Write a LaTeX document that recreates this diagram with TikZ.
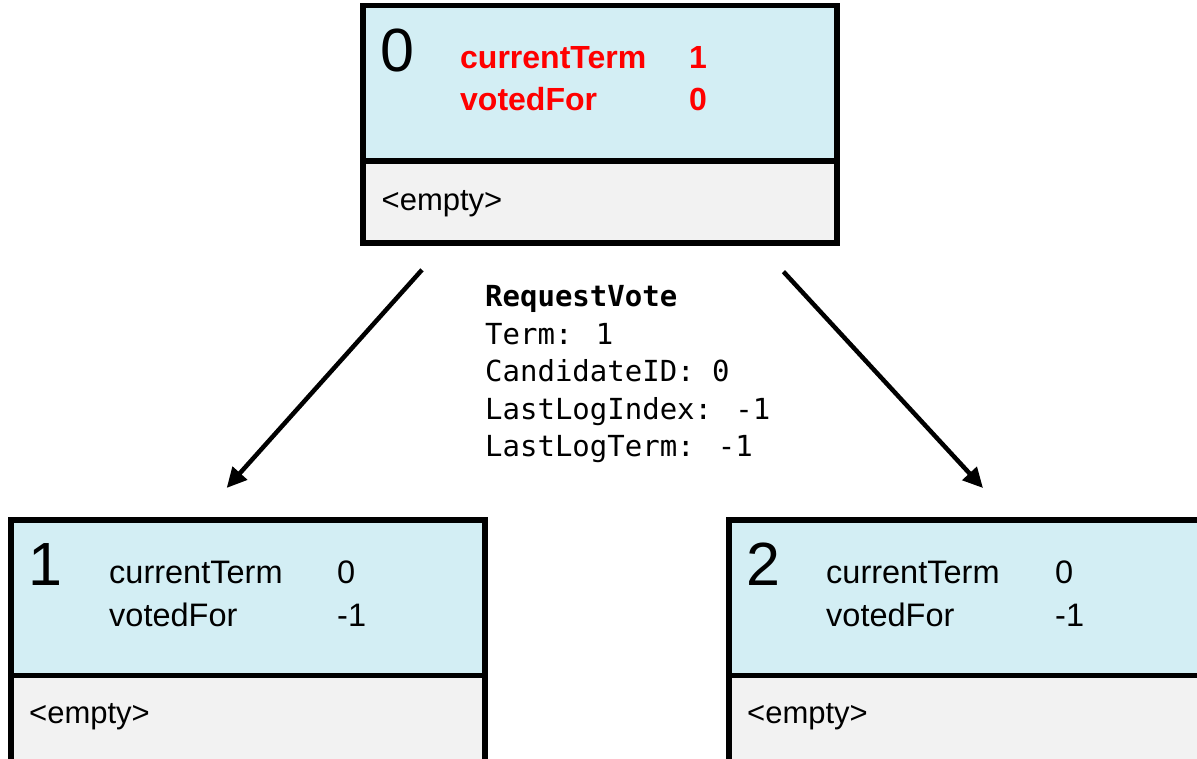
\documentclass[tikz,border=0pt]{standalone}
\usepackage{fontspec}
\setmainfont{Liberation Sans}
\newfontfamily\codefont{DejaVu Sans Mono}
\usepackage{tikz}
\usetikzlibrary{arrows.meta}

\definecolor{stateblue}{RGB}{211,238,244}
\definecolor{loggray}{RGB}{242,242,242}

\tikzset{
	statebox/.style={draw,line width=5.5pt,fill=stateblue,minimum width=474pt,minimum height=155.5pt,anchor=north west,inner sep=0pt,outer sep=0pt},
	logbox/.style={draw,line width=5.5pt,fill=loggray,minimum width=474pt,minimum height=82pt,anchor=north,inner sep=0pt,outer sep=0pt},
	idlabel/.style={anchor=base west,inner sep=0pt,font=\fontsize{61}{61}\selectfont},
	field/.style={anchor=base west,inner sep=0pt,font=\fontsize{32.5}{32.5}\selectfont},
	hot/.style={text=red,font=\fontsize{32}{32}\selectfont\bfseries},
	logtext/.style={anchor=base west,inner sep=0pt,font=\fontsize{31}{31}\selectfont},
	msg/.style={anchor=base west,inner sep=0pt,font=\codefont\fontsize{29}{29}\selectfont},
	rpc/.style={line width=4.5pt,-{Triangle[length=20pt,width=19pt]}}
}

\begin{document}
\begin{tikzpicture}[x=1pt,y=-1pt]
		\useasboundingbox (0,0) rectangle (1197,758);
		% server 0 (candidate)
		\node[statebox] (s0) at (363,5.5) {};
		\node[logbox] (l0) at (s0.south) {};
		\node[idlabel] (id0) at (380,71.5) {0};
		\node[field,hot] (k0a) at (460,68) {currentTerm};
		\node[field,hot] (k0b) at (460,110) {votedFor};
		\node[field,hot] (v0a) at (689,68) {1};
		\node[field,hot] (v0b) at (689,110) {0};
		\node[logtext] (e0) at (381.5,210) {<empty>};
		% server 1
		\node[statebox] (s1) at (11,520) {};
		\node[logbox,minimum height=95pt] (l1) at (s1.south) {};
		\node[idlabel] (id1) at (28,585) {1};
		\node[field] (k1a) at (109,583) {currentTerm};
		\node[field] (k1b) at (109,626) {votedFor};
		\node[field] (v1a) at (337,583) {0};
		\node[field] (v1b) at (337,626) {-1};
		\node[logtext] (e1) at (29,723) {<empty>};
		% server 2
		\node[statebox] (s2) at (729,520) {};
		\node[logbox,minimum height=95pt] (l2) at (s2.south) {};
		\node[idlabel] (id2) at (746,585) {2};
		\node[field] (k2a) at (826,583) {currentTerm};
		\node[field] (k2b) at (826,626) {votedFor};
		\node[field] (v2a) at (1055,583) {0};
		\node[field] (v2b) at (1055,626) {-1};
		\node[logtext] (e2) at (747,723) {<empty>};
		% the message
		\node[msg] (m0) at (485,306.7) {\bfseries RequestVote};
		\node[msg] (m1) at (485,344) {Term: 1};
		\node[msg] (m2) at (485,381.7) {CandidateID: 0};
		\node[msg] (m3) at (485,419) {LastLogIndex: -1};
		\node[msg] (m4) at (485,456.7) {LastLogTerm: -1};
		% arrows
		\draw[rpc,shorten <=36pt,shorten >=43pt] ([xshift=83pt]l0.south west) -- ([xshift=187pt]s1.north west);
		\draw[rpc,shorten <=39pt,shorten >=43.5pt] ([xshift=-80pt]l0.south east) -- ([xshift=283.5pt]s2.north west);
	\end{tikzpicture}
\end{document}
